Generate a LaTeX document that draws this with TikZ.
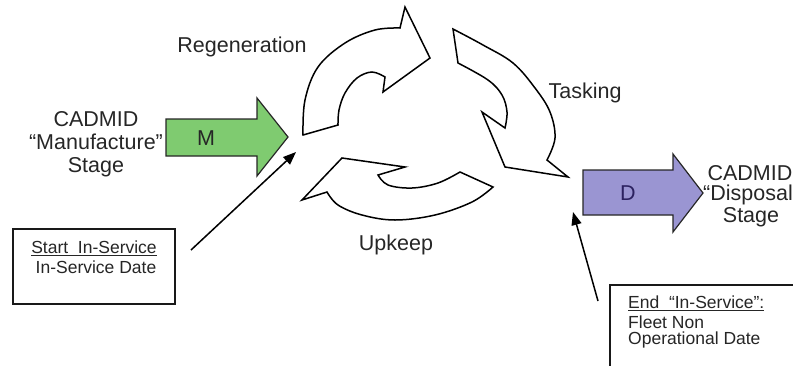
\documentclass[tikz,border=0pt]{standalone}
\usepackage{fontspec}
\setmainfont{Liberation Sans}
\usetikzlibrary{arrows.meta}

\definecolor{txt}{HTML}{262626}
\definecolor{mgreen}{HTML}{7FCB70}
\definecolor{dviolet}{HTML}{9A95D2}
\definecolor{dletter}{HTML}{2C2260}

\tikzset{
  label/.style={font=\fontsize{21.5}{23}\selectfont, text=txt, inner sep=0pt, align=center},
  boxtext/.style={font=\fontsize{17.5}{19}\selectfont, text=txt, inner sep=0pt},
  cyclearrow/.style={draw=black, fill=white, line width=1.5pt, line join=miter},
  blockarrow/.style={draw=black!85, line width=1.2pt, line join=miter},
  infobox/.style={draw=black!90, line width=2.4pt, fill=white},
  pointer/.style={draw=black, line width=1.5pt, -{Triangle[length=13pt,width=10pt]}},
}

\begin{document}
\begin{tikzpicture}[x=1pt,y=-1pt]
\useasboundingbox (0,0) rectangle (793,365);

% --- the three curved arrows of the in-service cycle ---
% Regeneration
\path[cyclearrow] (303,135)
  -- plot[smooth, tension=0.6] coordinates {(303,135) (305,100) (318,67) (345,43) (375,30) (400,28)}
  -- (405,7) -- (430,58) -- (383,92) -- (385,77)
  -- plot[smooth, tension=0.6] coordinates {(385,77) (372,72) (357,78) (345,93) (339,110) (338,125)}
  -- cycle;
% Tasking
\path[cyclearrow] (453,29)
  -- plot[smooth, tension=0.6] coordinates {(453,29) (483,45) (513,63) (535,88) (550,112) (555,138) (547,160)}
  -- (568,177) -- (505,167) -- (482,112) -- (505,128)
  -- plot[smooth, tension=0.6] coordinates {(505,128) (507,112) (502,95) (488,80) (458,63)}
  -- cycle;
% Upkeep
\path[cyclearrow] (302,200) -- (342,158) -- (405,167) -- (378,175)
  -- plot[smooth, tension=0.6] coordinates {(378,175) (388,185) (412,188) (438,183) (460,172)}
  -- (493,187)
  -- plot[smooth, tension=0.6] coordinates {(493,187) (472,202) (435,215) (395,220) (362,215) (338,205) (327,192)}
  -- cycle;

\node[label] (regen) at (242,47) {Regeneration};
\node[label] (task) at (585,93) {Tasking};
\node[label] (upkeep) at (396,245) {Upkeep};

% --- manufacture stage block arrow ---
\path[blockarrow, fill=mgreen] (166,119) -- (257,119) -- (257,98) -- (288,137)
  -- (257,176) -- (257,156) -- (166,156) -- cycle;
\node[label] (m) at (206,138) {M};
\node[label] (manuf) at (96,144) {CADMID\\“Manufacture”\\Stage};

% --- disposal stage block arrow ---
\path[blockarrow, fill=dviolet] (583,170) -- (673,170) -- (673,154) -- (703,193)
  -- (673,232) -- (673,215) -- (583,215) -- cycle;
\node[label, text=dletter] (d) at (628,193) {D};
\node[label] (cad2) at (750,173) {CADMID};
\node[label, anchor=west] (disp) at (703,195) {“Disposal};
\node[label] (stage2) at (751,217) {Stage};

% --- in-service start box ---
\node[infobox, minimum width=162pt, minimum height=75pt] (startbox) at (94,266.5) {};
\node[boxtext] (st1) at (94,248) {\underline{Start\ \ In-Service}};
\node[boxtext] (st2) at (96,267) {In-Service Date};

% --- in-service end box (runs off the page) ---
\node[infobox, anchor=north west, minimum width=200pt, minimum height=100pt] (endbox) at (609,284) {};
\node[boxtext, anchor=west] (en1) at (628,303) {\underline{End\ \ “In-Service”:}};
\node[boxtext, anchor=west] (en2) at (628,322) {Fleet Non};
\node[boxtext, anchor=west] (en3) at (628,340) {Operational Date};

% --- pointers to the cycle ---
\coordinate (startfoot) at (191,250);
\coordinate (starttip) at (296,152);
\coordinate (endfoot) at (598,301);
\coordinate (endtip) at (573,212);
\draw[pointer] (startfoot) -- (starttip);
\draw[pointer] (endfoot) -- (endtip);
\end{tikzpicture}
\end{document}
